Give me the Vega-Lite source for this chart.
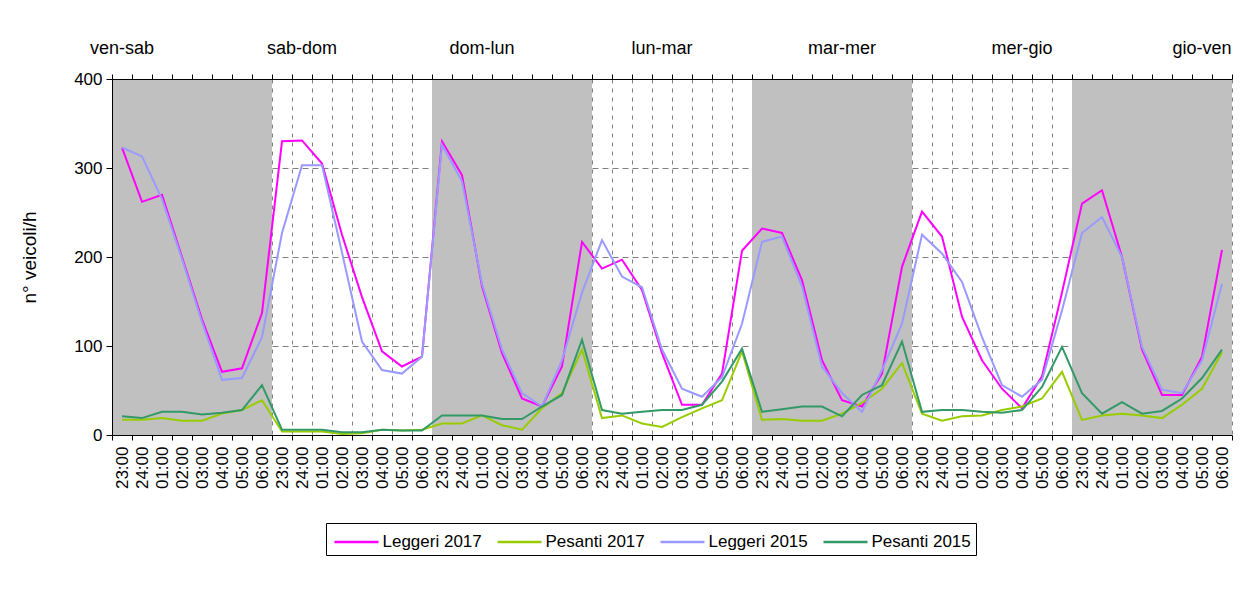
{
  "$schema": "https://vega.github.io/schema/vega-lite/v6.json",
  "width": 1120,
  "height": 356,
  "autosize": {"type": "none"},
  "padding": {"left": 112, "top": 79, "right": 28, "bottom": 157},
  "background": "white",
  "config": {
    "font": "Liberation Sans",
    "view": {"stroke": null},
    "axis": {"labelFont": "Liberation Sans", "titleFont": "Liberation Sans", "labelColor": "black", "titleColor": "black", "domainColor": "black", "tickColor": "black", "domainWidth": 1, "tickWidth": 1},
    "legend": {"labelFont": "Liberation Sans", "labelColor": "black"}
  },
  "datasets": {
    "dati": [
      {"i": 0, "notte": "ven-sab", "ora": "23:00", "Leggeri 2017": 323, "Pesanti 2017": 17, "Leggeri 2015": 323, "Pesanti 2015": 21},
      {"i": 1, "notte": "ven-sab", "ora": "24:00", "Leggeri 2017": 262, "Pesanti 2017": 17, "Leggeri 2015": 313, "Pesanti 2015": 19},
      {"i": 2, "notte": "ven-sab", "ora": "01:00", "Leggeri 2017": 270, "Pesanti 2017": 19, "Leggeri 2015": 265, "Pesanti 2015": 26},
      {"i": 3, "notte": "ven-sab", "ora": "02:00", "Leggeri 2017": 200, "Pesanti 2017": 16, "Leggeri 2015": 198, "Pesanti 2015": 26},
      {"i": 4, "notte": "ven-sab", "ora": "03:00", "Leggeri 2017": 130, "Pesanti 2017": 16, "Leggeri 2015": 127, "Pesanti 2015": 23},
      {"i": 5, "notte": "ven-sab", "ora": "04:00", "Leggeri 2017": 71, "Pesanti 2017": 24, "Leggeri 2015": 62, "Pesanti 2015": 25},
      {"i": 6, "notte": "ven-sab", "ora": "05:00", "Leggeri 2017": 75, "Pesanti 2017": 28, "Leggeri 2015": 64, "Pesanti 2015": 28},
      {"i": 7, "notte": "ven-sab", "ora": "06:00", "Leggeri 2017": 137, "Pesanti 2017": 39, "Leggeri 2015": 110, "Pesanti 2015": 56},
      {"i": 8, "notte": "sab-dom", "ora": "23:00", "Leggeri 2017": 330, "Pesanti 2017": 4, "Leggeri 2015": 227, "Pesanti 2015": 6},
      {"i": 9, "notte": "sab-dom", "ora": "24:00", "Leggeri 2017": 331, "Pesanti 2017": 4, "Leggeri 2015": 303, "Pesanti 2015": 6},
      {"i": 10, "notte": "sab-dom", "ora": "01:00", "Leggeri 2017": 305, "Pesanti 2017": 4, "Leggeri 2015": 303, "Pesanti 2015": 6},
      {"i": 11, "notte": "sab-dom", "ora": "02:00", "Leggeri 2017": 225, "Pesanti 2017": 1, "Leggeri 2015": 205, "Pesanti 2015": 3},
      {"i": 12, "notte": "sab-dom", "ora": "03:00", "Leggeri 2017": 155, "Pesanti 2017": 2, "Leggeri 2015": 105, "Pesanti 2015": 3},
      {"i": 13, "notte": "sab-dom", "ora": "04:00", "Leggeri 2017": 94, "Pesanti 2017": 6, "Leggeri 2015": 73, "Pesanti 2015": 6},
      {"i": 14, "notte": "sab-dom", "ora": "05:00", "Leggeri 2017": 77, "Pesanti 2017": 5, "Leggeri 2015": 69, "Pesanti 2015": 5},
      {"i": 15, "notte": "sab-dom", "ora": "06:00", "Leggeri 2017": 88, "Pesanti 2017": 6, "Leggeri 2015": 88, "Pesanti 2015": 5},
      {"i": 16, "notte": "dom-lun", "ora": "23:00", "Leggeri 2017": 330, "Pesanti 2017": 13, "Leggeri 2015": 326, "Pesanti 2015": 22},
      {"i": 17, "notte": "dom-lun", "ora": "24:00", "Leggeri 2017": 292, "Pesanti 2017": 13, "Leggeri 2015": 285, "Pesanti 2015": 22},
      {"i": 18, "notte": "dom-lun", "ora": "01:00", "Leggeri 2017": 167, "Pesanti 2017": 22, "Leggeri 2015": 170, "Pesanti 2015": 22},
      {"i": 19, "notte": "dom-lun", "ora": "02:00", "Leggeri 2017": 92, "Pesanti 2017": 11, "Leggeri 2015": 96, "Pesanti 2015": 18},
      {"i": 20, "notte": "dom-lun", "ora": "03:00", "Leggeri 2017": 41, "Pesanti 2017": 6, "Leggeri 2015": 47, "Pesanti 2015": 18},
      {"i": 21, "notte": "dom-lun", "ora": "04:00", "Leggeri 2017": 32, "Pesanti 2017": 30, "Leggeri 2015": 32, "Pesanti 2015": 32},
      {"i": 22, "notte": "dom-lun", "ora": "05:00", "Leggeri 2017": 77, "Pesanti 2017": 47, "Leggeri 2015": 84, "Pesanti 2015": 45},
      {"i": 23, "notte": "dom-lun", "ora": "06:00", "Leggeri 2017": 217, "Pesanti 2017": 96, "Leggeri 2015": 160, "Pesanti 2015": 107},
      {"i": 24, "notte": "lun-mar", "ora": "23:00", "Leggeri 2017": 187, "Pesanti 2017": 19, "Leggeri 2015": 219, "Pesanti 2015": 28},
      {"i": 25, "notte": "lun-mar", "ora": "24:00", "Leggeri 2017": 197, "Pesanti 2017": 22, "Leggeri 2015": 178, "Pesanti 2015": 24},
      {"i": 26, "notte": "lun-mar", "ora": "01:00", "Leggeri 2017": 163, "Pesanti 2017": 13, "Leggeri 2015": 166, "Pesanti 2015": 26},
      {"i": 27, "notte": "lun-mar", "ora": "02:00", "Leggeri 2017": 92, "Pesanti 2017": 9, "Leggeri 2015": 96, "Pesanti 2015": 28},
      {"i": 28, "notte": "lun-mar", "ora": "03:00", "Leggeri 2017": 34, "Pesanti 2017": 20, "Leggeri 2015": 52, "Pesanti 2015": 28},
      {"i": 29, "notte": "lun-mar", "ora": "04:00", "Leggeri 2017": 34, "Pesanti 2017": 30, "Leggeri 2015": 43, "Pesanti 2015": 34},
      {"i": 30, "notte": "lun-mar", "ora": "05:00", "Leggeri 2017": 69, "Pesanti 2017": 39, "Leggeri 2015": 65, "Pesanti 2015": 60},
      {"i": 31, "notte": "lun-mar", "ora": "06:00", "Leggeri 2017": 207, "Pesanti 2017": 94, "Leggeri 2015": 125, "Pesanti 2015": 97},
      {"i": 32, "notte": "mar-mer", "ora": "23:00", "Leggeri 2017": 232, "Pesanti 2017": 17, "Leggeri 2015": 217, "Pesanti 2015": 26},
      {"i": 33, "notte": "mar-mer", "ora": "24:00", "Leggeri 2017": 227, "Pesanti 2017": 18, "Leggeri 2015": 223, "Pesanti 2015": 29},
      {"i": 34, "notte": "mar-mer", "ora": "01:00", "Leggeri 2017": 174, "Pesanti 2017": 16, "Leggeri 2015": 167, "Pesanti 2015": 32},
      {"i": 35, "notte": "mar-mer", "ora": "02:00", "Leggeri 2017": 84, "Pesanti 2017": 16, "Leggeri 2015": 77, "Pesanti 2015": 32},
      {"i": 36, "notte": "mar-mer", "ora": "03:00", "Leggeri 2017": 39, "Pesanti 2017": 24, "Leggeri 2015": 47, "Pesanti 2015": 21},
      {"i": 37, "notte": "mar-mer", "ora": "04:00", "Leggeri 2017": 32, "Pesanti 2017": 36, "Leggeri 2015": 26, "Pesanti 2015": 45},
      {"i": 38, "notte": "mar-mer", "ora": "05:00", "Leggeri 2017": 69, "Pesanti 2017": 52, "Leggeri 2015": 73, "Pesanti 2015": 56},
      {"i": 39, "notte": "mar-mer", "ora": "06:00", "Leggeri 2017": 189, "Pesanti 2017": 81, "Leggeri 2015": 125, "Pesanti 2015": 105},
      {"i": 40, "notte": "mer-gio", "ora": "23:00", "Leggeri 2017": 251, "Pesanti 2017": 24, "Leggeri 2015": 225, "Pesanti 2015": 26},
      {"i": 41, "notte": "mer-gio", "ora": "24:00", "Leggeri 2017": 223, "Pesanti 2017": 16, "Leggeri 2015": 204, "Pesanti 2015": 28},
      {"i": 42, "notte": "mer-gio", "ora": "01:00", "Leggeri 2017": 133, "Pesanti 2017": 21, "Leggeri 2015": 172, "Pesanti 2015": 28},
      {"i": 43, "notte": "mer-gio", "ora": "02:00", "Leggeri 2017": 84, "Pesanti 2017": 22, "Leggeri 2015": 110, "Pesanti 2015": 26},
      {"i": 44, "notte": "mer-gio", "ora": "03:00", "Leggeri 2017": 52, "Pesanti 2017": 28, "Leggeri 2015": 56, "Pesanti 2015": 25},
      {"i": 45, "notte": "mer-gio", "ora": "04:00", "Leggeri 2017": 30, "Pesanti 2017": 32, "Leggeri 2015": 43, "Pesanti 2015": 28},
      {"i": 46, "notte": "mer-gio", "ora": "05:00", "Leggeri 2017": 66, "Pesanti 2017": 41, "Leggeri 2015": 62, "Pesanti 2015": 54},
      {"i": 47, "notte": "mer-gio", "ora": "06:00", "Leggeri 2017": 160, "Pesanti 2017": 71, "Leggeri 2015": 140, "Pesanti 2015": 99},
      {"i": 48, "notte": "gio-ven", "ora": "23:00", "Leggeri 2017": 260, "Pesanti 2017": 17, "Leggeri 2015": 227, "Pesanti 2015": 47},
      {"i": 49, "notte": "gio-ven", "ora": "24:00", "Leggeri 2017": 275, "Pesanti 2017": 22, "Leggeri 2015": 245, "Pesanti 2015": 24},
      {"i": 50, "notte": "gio-ven", "ora": "01:00", "Leggeri 2017": 200, "Pesanti 2017": 24, "Leggeri 2015": 200, "Pesanti 2015": 37},
      {"i": 51, "notte": "gio-ven", "ora": "02:00", "Leggeri 2017": 96, "Pesanti 2017": 22, "Leggeri 2015": 99, "Pesanti 2015": 24},
      {"i": 52, "notte": "gio-ven", "ora": "03:00", "Leggeri 2017": 45, "Pesanti 2017": 19, "Leggeri 2015": 51, "Pesanti 2015": 27},
      {"i": 53, "notte": "gio-ven", "ora": "04:00", "Leggeri 2017": 45, "Pesanti 2017": 34, "Leggeri 2015": 47, "Pesanti 2015": 41},
      {"i": 54, "notte": "gio-ven", "ora": "05:00", "Leggeri 2017": 88, "Pesanti 2017": 52, "Leggeri 2015": 84, "Pesanti 2015": 64},
      {"i": 55, "notte": "gio-ven", "ora": "06:00", "Leggeri 2017": 208, "Pesanti 2017": 93, "Leggeri 2015": 170, "Pesanti 2015": 96}
    ],
    "notti": [
      {"i": 0, "notte": "ven-sab"},
      {"i": 9, "notte": "sab-dom"},
      {"i": 18, "notte": "dom-lun"},
      {"i": 27, "notte": "lun-mar"},
      {"i": 36, "notte": "mar-mer"},
      {"i": 45, "notte": "mer-gio"},
      {"i": 54, "notte": "gio-ven"}
    ]
  },
  "layer": [
    {
      "data": {"name": "dati"},
      "transform": [{"filter": "indexof(['ven-sab','dom-lun','mar-mer','gio-ven'], datum.notte) >= 0"}],
      "mark": {"type": "rect", "color": "#C0C0C0"},
      "encoding": {
        "x": {
          "field": "i", "type": "ordinal",
          "scale": {"type": "band", "paddingInner": 0, "paddingOuter": 0},
          "axis": {"orient": "bottom", "tickBand": "extent", "grid": true, "gridColor": "#808080", "gridDash": [4, 5], "gridWidth": 1, "domain": false, "ticks": false, "labels": false, "title": null, "zindex": 0}
        },
        "y": {
          "datum": 400, "type": "quantitative",
          "scale": {"domain": [0, 400], "nice": false},
          "axis": {"orient": "left", "values": [100, 200, 300], "grid": true, "gridColor": "#808080", "gridDash": [6, 4], "gridWidth": 1, "domain": false, "ticks": false, "labels": false, "title": null, "zindex": 0}
        },
        "y2": {"datum": 0}
      }
    },
    {
      "data": {"name": "dati"},
      "transform": [{"fold": ["Leggeri 2017", "Pesanti 2017", "Leggeri 2015", "Pesanti 2015"], "as": ["serie", "veicoli"]}],
      "mark": {"type": "line", "strokeWidth": 2},
      "encoding": {
        "x": {
          "field": "i", "type": "ordinal", "bandPosition": 0.5,
          "axis": {"orient": "bottom", "tickBand": "extent", "grid": false, "domain": true, "ticks": true, "tickSize": 5, "labels": true, "labelExpr": "['23:00','24:00','01:00','02:00','03:00','04:00','05:00','06:00'][datum.value % 8]", "labelAngle": 270, "labelFontSize": 17, "labelPadding": 6, "labelOverlap": false, "title": null, "zindex": 1}
        },
        "y": {
          "field": "veicoli", "type": "quantitative",
          "scale": {"domain": [0, 400], "nice": false},
          "axis": {"orient": "left", "values": [0, 100, 200, 300, 400], "grid": false, "tickSize": 6, "labelFontSize": 17, "labelPadding": 4, "title": "n° veicoli/h", "titleFontSize": 19, "titleFontWeight": "normal", "titlePadding": 34, "zindex": 1}
        },
        "color": {
          "field": "serie", "type": "nominal",
          "scale": {"domain": ["Leggeri 2017", "Pesanti 2017", "Leggeri 2015", "Pesanti 2015"], "range": ["#FF00FF", "#99CC00", "#9999FF", "#339966"]},
          "legend": {"orient": "none", "legendX": 214, "legendY": 444, "direction": "horizontal", "columns": 4, "title": null, "symbolType": "M-1.76,0H1.76", "symbolSize": 625, "symbolStrokeWidth": 2.5, "symbolOffset": 11.5, "labelFontSize": 17, "labelOffset": 12, "columnPadding": 10, "padding": 5, "strokeColor": "black", "fillColor": "white"}
        }
      }
    },
    {
      "data": {"name": "notti"},
      "mark": {"type": "text", "fontSize": 18, "baseline": "middle", "align": "center", "color": "black", "font": "Liberation Sans"},
      "encoding": {
        "x": {
          "field": "i", "type": "ordinal", "bandPosition": 0.5,
          "axis": {"orient": "top", "tickBand": "extent", "grid": false, "domain": true, "ticks": true, "tickSize": 5, "labels": false, "title": null, "zindex": 1}
        },
        "y": {"datum": 434, "type": "quantitative", "axis": null},
        "text": {"field": "notte"}
      }
    }
  ],
  "resolve": {"axis": {"x": "independent", "y": "independent"}}
}
